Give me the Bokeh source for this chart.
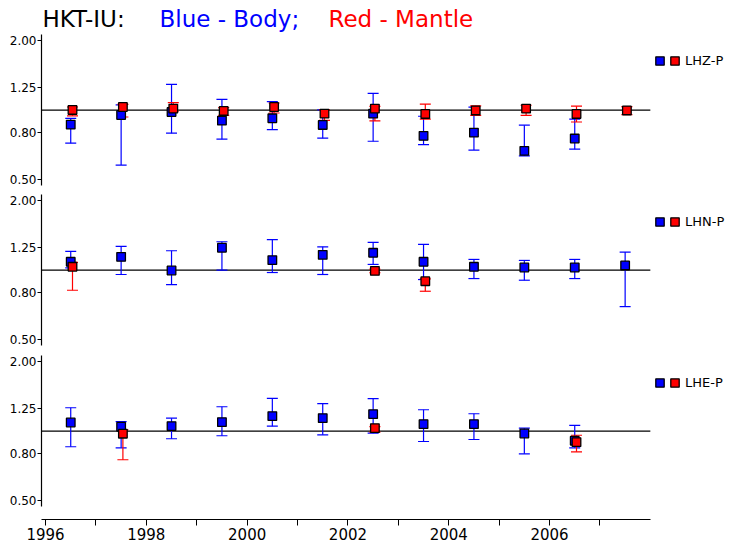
from bokeh.plotting import figure
from bokeh.models import (ColumnDataSource, Whisker, TeeHead, FixedTicker, PrintfTickFormatter,
                          Range1d, Legend, LegendItem, Label)
from bokeh.layouts import column
from bokeh.embed import file_html
from bokeh.resources import INLINE

# ---------------- data ----------------
x_ticks = [1996, 1997, 1998, 1999, 2000, 2001, 2002, 2003, 2004, 2005, 2006, 2007]
y_ticks = [0.5, 0.8, 1.25, 2.0]
title_texts = ["HKT-IU:", "Blue - Body;", "Red - Mantle"]
title_colors = ["black", "#0000ff", "#ff0000"]
red_shift = 0.035
ref_level = 1.0

lhz_blue_x = [1996.5, 1997.5, 1998.5, 1999.5, 2000.5, 2001.5, 2002.5, 2003.5, 2004.5, 2005.5, 2006.5]
lhz_blue_v = [0.866, 0.953, 0.982, 0.901, 0.922, 0.863, 0.966, 0.774, 0.800, 0.667, 0.754]
lhz_blue_lo = [0.720, 0.579, 0.795, 0.749, 0.824, 0.757, 0.734, 0.710, 0.672, 0.635, 0.678]
lhz_blue_hi = [0.922, 1.053, 1.292, 1.114, 1.088, 1.003, 1.182, 0.941, 1.030, 0.861, 0.915]
lhz_red_x = [1996.5, 1997.5, 1998.5, 1999.5, 2000.5, 2001.5, 2002.5, 2003.5, 2004.5, 2005.5, 2006.5, 2007.5]
lhz_red_v = [1.002, 1.032, 1.015, 0.992, 1.032, 0.966, 1.015, 0.963, 0.997, 1.015, 0.963, 0.997]
lhz_red_lo = [0.944, 0.934, 0.991, 0.950, 0.972, 0.904, 0.898, 0.915, 0.950, 0.950, 0.889, 0.957]
lhz_red_hi = [1.032, 1.060, 1.077, 1.025, 1.074, 1.003, 1.039, 1.062, 1.044, 1.050, 1.040, 1.035]

lhn_blue_x = [1996.5, 1997.5, 1998.5, 1999.5, 2000.5, 2001.5, 2002.5, 2003.5, 2004.5, 2005.5, 2006.5, 2007.5]
lhn_blue_v = [1.087, 1.142, 0.997, 1.250, 1.105, 1.165, 1.189, 1.087, 1.034, 1.027, 1.027, 1.048]
lhn_blue_lo = [1.024, 0.958, 0.867, 1.000, 0.977, 0.958, 1.059, 0.911, 0.920, 0.905, 0.920, 0.696]
lhn_blue_hi = [1.206, 1.267, 1.213, 1.327, 1.354, 1.262, 1.319, 1.293, 1.113, 1.102, 1.113, 1.197]
lhn_red_x = [1996.5, 2002.5, 2003.5]
lhn_red_v = [1.034, 0.993, 0.896]
lhn_red_lo = [0.819, 0.975, 0.811]
lhn_red_hi = [1.080, 1.010, 0.917]

lhe_blue_x = [1996.5, 1997.5, 1998.5, 1999.5, 2000.5, 2001.5, 2002.5, 2003.5, 2004.5, 2005.5, 2006.5]
lhe_blue_v = [1.090, 1.045, 1.051, 1.094, 1.161, 1.138, 1.184, 1.072, 1.072, 0.977, 0.909]
lhe_blue_lo = [0.856, 0.847, 0.927, 0.955, 1.051, 0.964, 0.980, 0.902, 0.920, 0.798, 0.847]
lhe_blue_hi = [1.262, 1.099, 1.138, 1.275, 1.385, 1.314, 1.381, 1.237, 1.189, 1.030, 1.058]
lhe_red_x = [1997.5, 2002.5, 2006.5]
lhe_red_v = [0.975, 1.030, 0.896]
lhe_red_lo = [0.752, 0.990, 0.814]
lhe_red_hi = [1.013, 1.045, 0.960]

# ---------------- layout ----------------
FONT = "DejaVu Sans"
W = 733
LEFT = 41
X_START, X_AXIS_END, X_FRAME_END = 1995.92, 2008.0, 2009.65
x_range = Range1d(X_START, X_FRAME_END)
Y_AXIS_TOP = 2.123
Y_AXIS_BOTTOM = 0.471
GLYPH = 21


def add_series(p, xs, v, lo, hi, color, shift=0.0):
    src = ColumnDataSource(dict(x=[x + shift for x in xs], v=v, lo=lo, hi=hi))
    w = Whisker(source=src, base="x", lower="lo", upper="hi", dimension="height",
                line_color=color, line_width=1.2, level="underlay",
                lower_head=TeeHead(size=11, line_color=color, line_width=1.2),
                upper_head=TeeHead(size=11, line_color=color, line_width=1.2))
    p.add_layout(w)
    r = p.scatter("x", "v", source=src, marker="square", size=8.6, fill_color=color,
                  line_color="black", line_width=1.3)
    return r


def small_legend(items, x, y):
    return Legend(items=items, orientation="horizontal", location=(x, y),
                  glyph_width=GLYPH, glyph_height=GLYPH, label_height=GLYPH, label_width=0,
                  label_standoff=0, spacing=0, padding=0, margin=0,
                  border_line_color=None, background_fill_alpha=0,
                  label_text_font=FONT, label_text_font_size="13px",
                  label_text_color="black")


def make_panel(name, frame_h, bottom, y_bottom, y_top, show_x, legend_y, series):
    p = figure(width=W, height=frame_h + bottom, x_range=x_range,
               y_range=Range1d(y_bottom, y_top), y_axis_type="log",
               output_backend="svg", toolbar_location=None,
               min_border_left=LEFT, min_border_right=0,
               min_border_top=0, min_border_bottom=bottom,
               x_axis_location="below" if show_x else None)
    p.outline_line_color = None
    p.xgrid.visible = False
    p.ygrid.visible = False

    p.segment(x0=[X_START], x1=[X_AXIS_END], y0=[ref_level], y1=[ref_level],
              line_color="black", line_width=1.2, level="underlay")

    (bx, bv, blo, bhi), (rx, rv, rlo, rhi) = series
    rb = add_series(p, bx, bv, blo, bhi, "#0000ff")
    rr = add_series(p, rx, rv, rlo, rhi, "#ff0000", shift=red_shift)

    ya = p.yaxis[0]
    ya.ticker = FixedTicker(ticks=y_ticks, minor_ticks=[])
    ya.formatter = PrintfTickFormatter(format="%.2f")
    ya.bounds = (Y_AXIS_BOTTOM, Y_AXIS_TOP)
    ya.major_tick_out = 4
    ya.major_tick_in = 0
    ya.minor_tick_line_color = None
    ya.major_label_standoff = 1
    ya.major_label_text_font = FONT
    ya.major_label_text_font_size = "12px"
    ya.major_label_text_color = "black"
    ya.axis_line_color = "black"
    ya.axis_line_width = 1.2

    if show_x:
        xa = p.xaxis[0]
        xa.ticker = FixedTicker(ticks=x_ticks, minor_ticks=[])
        xa.major_label_overrides = {t: (str(t) if t % 2 == 0 else "") for t in x_ticks}
        xa.bounds = (X_START, X_AXIS_END)
        xa.major_tick_out = 6
        xa.major_tick_in = 0
        xa.minor_tick_line_color = None
        xa.major_label_standoff = 2
        xa.major_label_text_font = FONT
        xa.major_label_text_font_size = "15px"
        xa.major_label_text_color = "black"
        xa.axis_line_color = "black"
        xa.axis_line_width = 1.2

    p.add_layout(small_legend([LegendItem(label="", renderers=[rb])], 608, legend_y), "center")
    p.add_layout(small_legend([LegendItem(label=name, renderers=[rr])], 623, legend_y), "center")
    return p


p1 = make_panel("LHZ-P", 194, 0, 0.432, 2.978, False, 123,
                ((lhz_blue_x, lhz_blue_v, lhz_blue_lo, lhz_blue_hi),
                 (lhz_red_x, lhz_red_v, lhz_red_lo, lhz_red_hi)))
p2 = make_panel("LHN-P", 161, 0, 0.428, Y_AXIS_TOP, False, 123,
                ((lhn_blue_x, lhn_blue_v, lhn_blue_lo, lhn_blue_hi),
                 (lhn_red_x, lhn_red_v, lhn_red_lo, lhn_red_hi)))
p3 = make_panel("LHE-P", 164, 32, 0.415, Y_AXIS_TOP, True, 126,
                ((lhe_blue_x, lhe_blue_v, lhe_blue_lo, lhe_blue_hi),
                 (lhe_red_x, lhe_red_v, lhe_red_lo, lhe_red_hi)))

for txt, col, xpos in zip(title_texts, title_colors, [1, 118, 287]):
    p1.add_layout(Label(x=xpos, y=176, x_units="screen", y_units="screen", text=txt,
                        text_color=col, text_font=FONT, text_font_size="23px",
                        text_baseline="alphabetic"))

layout = column(p1, p2, p3, spacing=0)
open("out.html", "w").write(file_html(layout, INLINE))
